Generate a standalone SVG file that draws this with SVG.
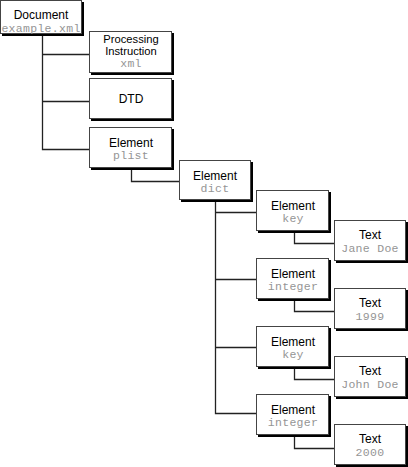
<svg xmlns="http://www.w3.org/2000/svg" width="408" height="467" viewBox="0 0 408 467">
<style>
.sh{fill:#000}
.bx{fill:#fff;stroke:#444;stroke-width:1}
.t{font-family:"Liberation Sans",Arial,sans-serif;font-size:12px;fill:#000;text-anchor:middle}
.s{font-size:11.2px}
.m{font-family:"Liberation Mono","DejaVu Sans Mono",monospace;font-size:11.5px;letter-spacing:0.3px;fill:#959595;text-anchor:middle}
.c{fill:none;stroke:#222;stroke-width:1.3}
</style>
<rect width="408" height="467" fill="#fff"/>
<g id="connectors">
<path class="c" d="M42.5,35 V149.5 H90 M42.5,54.5 H90 M42.5,101.5 H90"/>
<path class="c" d="M131.5,169 V181.5 H180"/>
<path class="c" d="M215.5,201 V413.5 H257 M215.5,212.5 H257 M215.5,279.5 H257 M215.5,347.5 H257"/>
<path class="c" d="M294.5,232 V243.5 H335"/>
<path class="c" d="M294.5,300 V311.5 H335"/>
<path class="c" d="M294.5,368 V379.5 H335"/>
<path class="c" d="M294.5,436 V448.5 H335"/>
</g>
<g id="document">
<rect class="sh" x="2" y="2" width="82" height="34"/>
<rect class="bx" x="0.5" y="0.5" width="81" height="33"/>
<text class="t" x="41" y="19">Document</text>
<text class="m" x="41" y="31.5">example.xml</text>
</g>
<g id="pi">
<rect class="sh" x="91" y="33" width="83" height="42"/>
<rect class="bx" x="89.5" y="31.5" width="82" height="41"/>
<text class="t s" x="131" y="42.5">Processing</text>
<text class="t s" x="131" y="54.5">Instruction</text>
<text class="m" x="131" y="67">xml</text>
</g>
<g id="dtd">
<rect class="sh" x="91" y="80" width="83" height="41"/>
<rect class="bx" x="89.5" y="78.5" width="82" height="40"/>
<text class="t" x="131" y="103">DTD</text>
</g>
<g id="plist">
<rect class="sh" x="91" y="129" width="83" height="41"/>
<rect class="bx" x="89.5" y="127.5" width="82" height="40"/>
<text class="t" x="131" y="146.5">Element</text>
<text class="m" x="131" y="159">plist</text>
</g>
<g id="dict">
<rect class="sh" x="181" y="162" width="72" height="40"/>
<rect class="bx" x="179.5" y="160.5" width="71" height="39"/>
<text class="t" x="215" y="179.5">Element</text>
<text class="m" x="215" y="192">dict</text>
</g>
<g id="key1">
<rect class="sh" x="258" y="192" width="73" height="41"/>
<rect class="bx" x="256.5" y="190.5" width="72" height="40"/>
<text class="t" x="293" y="209.5">Element</text>
<text class="m" x="293" y="222">key</text>
</g>
<g id="text1">
<rect class="sh" x="336" y="222" width="72" height="41"/>
<rect class="bx" x="334.5" y="220.5" width="71" height="40"/>
<text class="t" x="370" y="239">Text</text>
<text class="m" x="370" y="252">Jane Doe</text>
</g>
<g id="integer1">
<rect class="sh" x="258" y="260" width="73" height="41"/>
<rect class="bx" x="256.5" y="258.5" width="72" height="40"/>
<text class="t" x="293" y="277.5">Element</text>
<text class="m" x="293" y="290">integer</text>
</g>
<g id="text2">
<rect class="sh" x="336" y="290" width="72" height="41"/>
<rect class="bx" x="334.5" y="288.5" width="71" height="40"/>
<text class="t" x="370" y="307">Text</text>
<text class="m" x="370" y="320">1999</text>
</g>
<g id="key2">
<rect class="sh" x="258" y="328" width="73" height="41"/>
<rect class="bx" x="256.5" y="326.5" width="72" height="40"/>
<text class="t" x="293" y="345.5">Element</text>
<text class="m" x="293" y="358">key</text>
</g>
<g id="text3">
<rect class="sh" x="336" y="358" width="72" height="41"/>
<rect class="bx" x="334.5" y="356.5" width="71" height="40"/>
<text class="t" x="370" y="375">Text</text>
<text class="m" x="370" y="388">John Doe</text>
</g>
<g id="integer2">
<rect class="sh" x="258" y="396" width="73" height="41"/>
<rect class="bx" x="256.5" y="394.5" width="72" height="40"/>
<text class="t" x="293" y="413.5">Element</text>
<text class="m" x="293" y="426">integer</text>
</g>
<g id="text4">
<rect class="sh" x="336" y="426" width="72" height="41"/>
<rect class="bx" x="334.5" y="424.5" width="71" height="40"/>
<text class="t" x="370" y="443">Text</text>
<text class="m" x="370" y="456">2000</text>
</g>
</svg>
